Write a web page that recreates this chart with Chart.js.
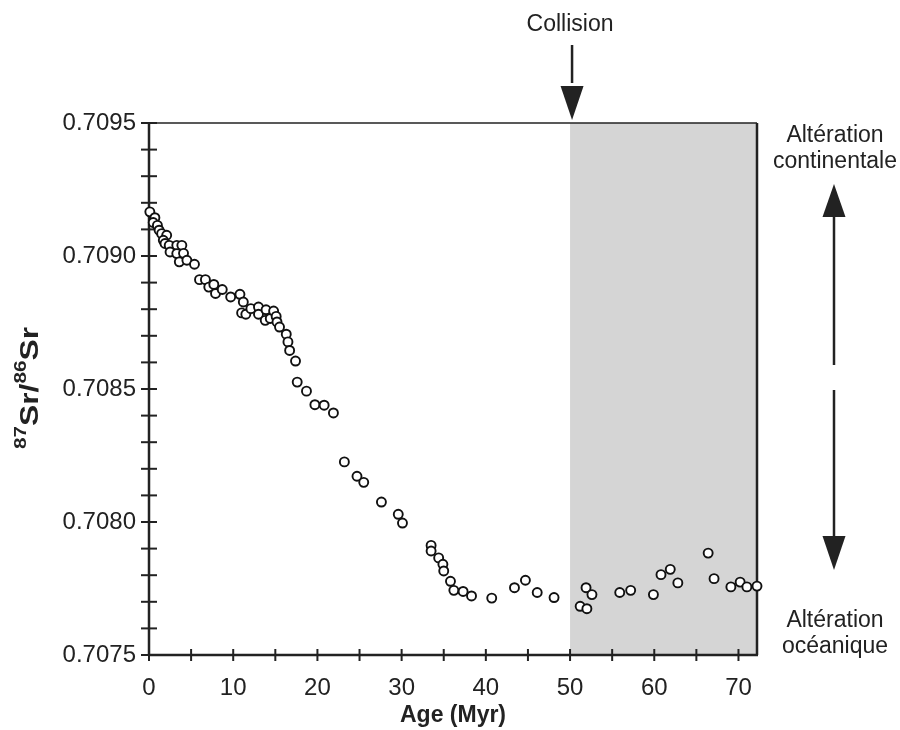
<!DOCTYPE html>
<html>
<head>
<meta charset="utf-8">
<script src="https://cdn.jsdelivr.net/npm/chart.js@4.4.1/dist/chart.umd.min.js"></script>
<style>
  html, body { margin: 0; padding: 0; background: #fff; }
  #wrap { width: 900px; height: 730px; }
</style>
</head>
<body>
<div id="wrap"><canvas id="c" width="900" height="730"></canvas></div>
<script>
// ---- Data ----
const age = [
  0.1,0.7,0.5,1.0,1.2,1.5,2.1,1.7,1.9,2.4,
  3.3,3.9,2.5,3.3,4.1,3.6,4.5,5.4,6.0,6.7,
  7.1,7.7,7.9,8.7,9.7,10.8,11.2,11.0,11.5,12.1,
  13.0,13.0,13.9,13.8,14.4,14.8,15.1,15.2,15.5,16.3,
  16.5,16.7,17.4,17.6,18.7,19.7,20.8,21.9,23.2,24.7,
  25.5,27.6,29.6,30.1,33.5,33.5,34.4,34.9,35.0,35.8,
  36.2,37.3,38.3,40.7,43.4,44.7,46.1,48.1,51.2,52.0,
  51.9,52.6,55.9,57.2,59.9,60.8,61.9,62.8,66.4,67.1,
  69.1,70.2,71.0,72.2
];
const srRatio = [
  0.709166,0.709144,0.709126,0.709115,0.709097,0.709084,0.709078,0.709059,0.709047,0.709040,
  0.709040,0.709040,0.709015,0.709009,0.709010,0.708978,0.708984,0.708969,0.708911,0.708911,
  0.708883,0.708893,0.708859,0.708874,0.708846,0.708856,0.708827,0.708786,0.708781,0.708802,
  0.708808,0.708781,0.708798,0.708758,0.708765,0.708793,0.708773,0.708752,0.708733,0.708706,
  0.708677,0.708645,0.708605,0.708526,0.708492,0.708441,0.708439,0.708410,0.708226,0.708172,
  0.708149,0.708075,0.708029,0.707996,0.707912,0.707891,0.707865,0.707841,0.707816,0.707777,
  0.707743,0.707739,0.707722,0.707714,0.707753,0.707781,0.707735,0.707716,0.707683,0.707674,
  0.707753,0.707727,0.707735,0.707743,0.707727,0.707802,0.707822,0.707771,0.707883,0.707787,
  0.707756,0.707774,0.707756,0.707759
];
const xTickValues = [0,5,10,15,20,25,30,35,40,45,50,55,60,65,70];
const xTickLabels = ['0','','10','','20','','30','','40','','50','','60','','70'];
const yTickValues = [0.7075,0.7076,0.7077,0.7078,0.7079,0.7080,0.7081,0.7082,0.7083,0.7084,
                     0.7085,0.7086,0.7087,0.7088,0.7089,0.7090,0.7091,0.7092,0.7093,0.7094,0.7095];
const yTickLabels = ['0.7075','','','','','0.7080','','','','','0.7085','','','','','0.7090','','','','','0.7095'];
const collisionAge = 50;
const xMin = 0, xMax = 72.2, yMin = 0.7075, yMax = 0.7095;

const FONT = '"Liberation Sans", Arial, Helvetica, sans-serif';
const INK = '#222';

function arrowHead(ctx, x, tipY, baseY, half) {
  ctx.beginPath();
  ctx.moveTo(x, tipY);
  ctx.lineTo(x - half, baseY);
  ctx.lineTo(x + half, baseY);
  ctx.closePath();
  ctx.fill();
}

const decor = {
  id: 'decor',
  beforeDatasetsDraw(chart) {
    const {ctx, chartArea: a, scales: {x, y}} = chart;
    ctx.save();
    const xs = x.getPixelForValue(collisionAge);
    ctx.fillStyle = '#d5d5d5';
    ctx.fillRect(xs, a.top, a.right - xs, a.bottom - a.top);
    ctx.strokeStyle = INK;
    ctx.lineWidth = 1.5;
    ctx.beginPath(); ctx.moveTo(a.left, a.top); ctx.lineTo(a.right, a.top); ctx.stroke();
    ctx.lineWidth = 2.5;
    ctx.beginPath(); ctx.moveTo(a.right, a.top); ctx.lineTo(a.right, a.bottom); ctx.stroke();
    ctx.beginPath(); ctx.moveTo(a.left, a.top); ctx.lineTo(a.left, a.bottom + 1); ctx.stroke();
    ctx.beginPath(); ctx.moveTo(a.left - 1, a.bottom); ctx.lineTo(a.right + 1, a.bottom); ctx.stroke();
    ctx.lineWidth = 2;
    x.ticks.forEach(t => {
      const px = x.getPixelForValue(t.value);
      ctx.beginPath(); ctx.moveTo(px, a.bottom - 6); ctx.lineTo(px, a.bottom + 6); ctx.stroke();
    });
    y.ticks.forEach(t => {
      const py = y.getPixelForValue(t.value);
      ctx.beginPath(); ctx.moveTo(a.left - 8, py); ctx.lineTo(a.left + 8, py); ctx.stroke();
    });
    ctx.restore();
  },
  afterDraw(chart) {
    const {ctx, chartArea: a, scales: {x}} = chart;
    ctx.save();
    ctx.fillStyle = INK;
    ctx.strokeStyle = INK;
    const cx = x.getPixelForValue(collisionAge) + 2;
    ctx.font = '23px ' + FONT;
    ctx.textAlign = 'center';
    ctx.textBaseline = 'alphabetic';
    ctx.fillText('Collision', cx - 2, a.top - 92);
    ctx.lineWidth = 2.5;
    ctx.beginPath(); ctx.moveTo(cx, a.top - 78); ctx.lineTo(cx, a.top - 40); ctx.stroke();
    arrowHead(ctx, cx, a.top - 3, a.top - 37, 11.5);

    const rx = a.right + 78;
    ctx.fillText('Altération', rx, a.top + 19);
    ctx.fillText('continentale', rx, a.top + 45);
    ctx.fillText('Altération', rx, a.bottom - 28);
    ctx.fillText('océanique', rx, a.bottom - 2);
    ctx.beginPath(); ctx.moveTo(rx - 1, a.top + 92); ctx.lineTo(rx - 1, a.top + 242); ctx.stroke();
    arrowHead(ctx, rx - 1, a.top + 61, a.top + 94, 11.5);
    ctx.beginPath(); ctx.moveTo(rx - 1, a.top + 267); ctx.lineTo(rx - 1, a.bottom - 118); ctx.stroke();
    arrowHead(ctx, rx - 1, a.bottom - 85, a.bottom - 119, 11.5);

    const parts = [['87', true], ['Sr', false], ['/', false], ['86', true], ['Sr', false]];
    const mainF = 'bold 26px ' + FONT, supF = 'bold 17px ' + FONT;
    let total = 0;
    parts.forEach(p => { ctx.font = p[1] ? supF : mainF; total += ctx.measureText(p[0]).width; });
    const len = 122, sx = len / total;
    const midY = (a.top + a.bottom) / 2 - 1;
    ctx.translate(38, midY + len / 2);
    ctx.rotate(-Math.PI / 2);
    ctx.scale(sx, 1);
    ctx.textAlign = 'left';
    let pos = 0;
    parts.forEach(p => {
      ctx.font = p[1] ? supF : mainF;
      ctx.fillText(p[0], pos, p[1] ? -12 : 0);
      pos += ctx.measureText(p[0]).width;
    });
    ctx.restore();
  }
};

new Chart(document.getElementById('c'), {
  type: 'scatter',
  data: {
    datasets: [{
      data: age.map((v, i) => ({x: v, y: srRatio[i]})),
      pointRadius: 4.5,
      pointBorderWidth: 1.9,
      pointBorderColor: '#111',
      pointBackgroundColor: '#fff',
      pointHoverRadius: 4.5,
      clip: false
    }]
  },
  options: {
    responsive: false,
    animation: false,
    devicePixelRatio: 1,
    layout: { padding: { left: 0, right: 143, top: 123, bottom: 0 } },
    plugins: { legend: { display: false }, tooltip: { enabled: false } },
    events: [],
    scales: {
      x: {
        type: 'linear', min: xMin, max: xMax,
        afterBuildTicks: s => { s.ticks = xTickValues.map(v => ({value: v})); },
        afterFit: s => { s.height = 75; },
        grid: { display: false, drawTicks: false },
        border: { display: false },
        ticks: {
          autoSkip: false, maxRotation: 0, padding: 19, color: INK,
          font: { family: FONT, size: 24 },
          callback: (v, i) => xTickLabels[xTickValues.indexOf(v)] ?? ''
        },
        title: {
          display: true, text: 'Age (Myr)', color: INK,
          font: { family: FONT, size: 23, weight: 'bold' },
          padding: { top: 0, bottom: 1 }
        }
      },
      y: {
        type: 'linear', min: yMin, max: yMax,
        afterBuildTicks: s => { s.ticks = yTickValues.map(v => ({value: v})); },
        afterFit: s => { s.width = 149; },
        grid: { display: false, drawTicks: false },
        border: { display: false },
        ticks: {
          autoSkip: false, padding: 13, color: INK,
          font: { family: FONT, size: 24 },
          callback: (v) => {
            const i = yTickValues.findIndex(t => Math.abs(t - v) < 1e-9);
            return i >= 0 ? yTickLabels[i] : '';
          }
        }
      }
    }
  },
  plugins: [decor]
});
</script>
</body>
</html>
